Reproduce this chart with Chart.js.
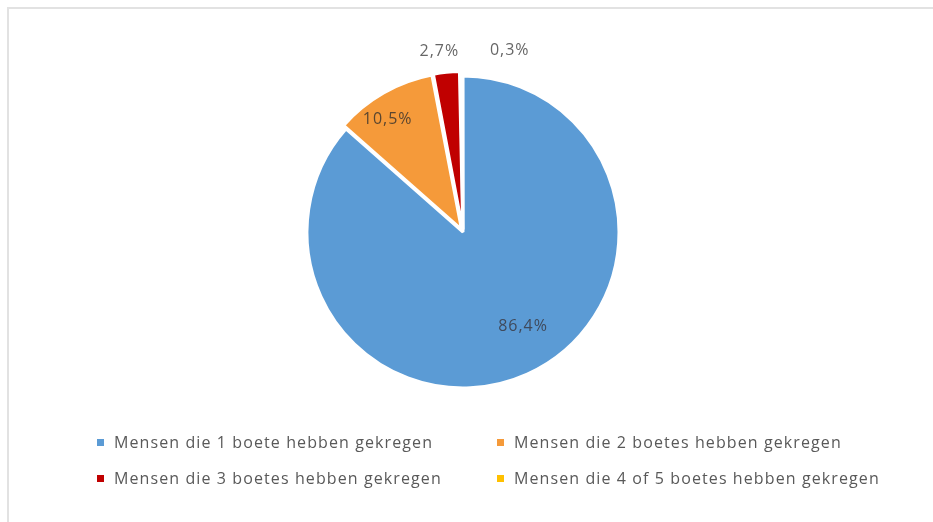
<!DOCTYPE html>
<html>
<head>
<meta charset="utf-8">
<script src="https://cdn.jsdelivr.net/npm/chart.js@4.4.1/dist/chart.umd.min.js"></script>
<style>
  html, body { margin: 0; padding: 0; background: #fff; overflow: hidden; }
  #wrap { position: relative; width: 933px; height: 522px; overflow: hidden; }
  #frame {
    position: absolute; left: 7px; top: 7px; width: 1000px; height: 600px;
    border-top: 2px solid #e2e2e2; border-left: 2px solid #e2e2e2;
  }
  #pie { position: absolute; left: 0; top: 0; }
  #legend {
    position: absolute; left: 97px; top: 430px;
    display: grid; grid-template-columns: 400px auto; row-gap: 12px;
    font-family: 'Open Sans', sans-serif; font-size: 16px; letter-spacing: 1.1px; color: #595959;
  }
  .item { display: flex; align-items: center; height: 24px; white-space: nowrap; }
  .box { width: 7px; height: 7px; margin-right: 10px; }
</style>
</head>
<body>
<div id="wrap">
  <div id="frame"></div>
  <canvas id="pie" width="933" height="522"></canvas>
  <div id="legend"></div>
</div>
<script>
// Categorieën en aandelen (in procenten)
const categories = [
  'Mensen die 1 boete hebben gekregen',
  'Mensen die 2 boetes hebben gekregen',
  'Mensen die 3 boetes hebben gekregen',
  'Mensen die 4 of 5 boetes hebben gekregen',
];
const shares = [86.4, 10.5, 2.7, 0.3];

// kleuren per stuk
const sliceColors = ['#5b9bd5', '#f59a3a', '#c00000', '#ffc000'];

// label formatteren op z'n Nederlands (komma)
const formatPct = (v) => v.toFixed(1).replace('.', ',') + '%';

// plugin die de percentages bij de taartpunten zet
const pieLabels = {
  id: 'pieLabels',
  afterDatasetsDraw(chart, args, opts) {
    const ctx = chart.ctx;
    const meta = chart.getDatasetMeta(0);
    const values = chart.data.datasets[0].data;
    ctx.save();
    ctx.font = opts.font;
    ctx.letterSpacing = opts.letterSpacing;
    ctx.textAlign = 'center';
    ctx.textBaseline = 'middle';
    meta.data.forEach((arc, i) => {
      const p = arc.getProps(['x', 'y', 'startAngle', 'endAngle', 'outerRadius']);
      const mid = (p.startAngle + p.endAngle) / 2 + opts.angleShift[i] * Math.PI / 180;
      const r = p.outerRadius * opts.radiusFactor[i];
      ctx.fillStyle = opts.colors[i];
      ctx.fillText(formatPct(values[i]), p.x + Math.cos(mid) * r, p.y + Math.sin(mid) * r);
    });
    ctx.restore();
  },
};

const ctx = document.getElementById('pie');

const chart = new Chart(ctx, {
  type: 'pie',
  data: {
    labels: categories,
    datasets: [
      {
        data: shares,
        backgroundColor: sliceColors,
        borderColor: '#ffffff',
        borderWidth: 3,
        offset: [0, 12, 10, 10],
      },
    ],
  },
  options: {
    responsive: false,
    animation: false,
    radius: 156,
    layout: { padding: { left: 0, right: 7, top: 0, bottom: 58 } },
    plugins: {
      legend: { display: false },
      tooltip: { enabled: false },
      pieLabels: {
        font: '16px "Open Sans"',
        letterSpacing: '1px',
        angleShift: [-8, -4, -1.5, 15],
        radiusFactor: [0.72, 0.87, 1.17, 1.2],
        colors: ['#3f4a5c', '#5a4630', '#666666', '#666666'],
      },
    },
  },
  plugins: [pieLabels],
});

// legenda in twee kolommen, zoals in Excel
const legend = document.getElementById('legend');
categories.forEach((name, i) => {
  const item = document.createElement('div');
  item.className = 'item';
  const box = document.createElement('span');
  box.className = 'box';
  box.style.background = sliceColors[i];
  const txt = document.createElement('span');
  txt.textContent = name;
  item.appendChild(box);
  item.appendChild(txt);
  legend.appendChild(item);
});
</script>
</body>
</html>
